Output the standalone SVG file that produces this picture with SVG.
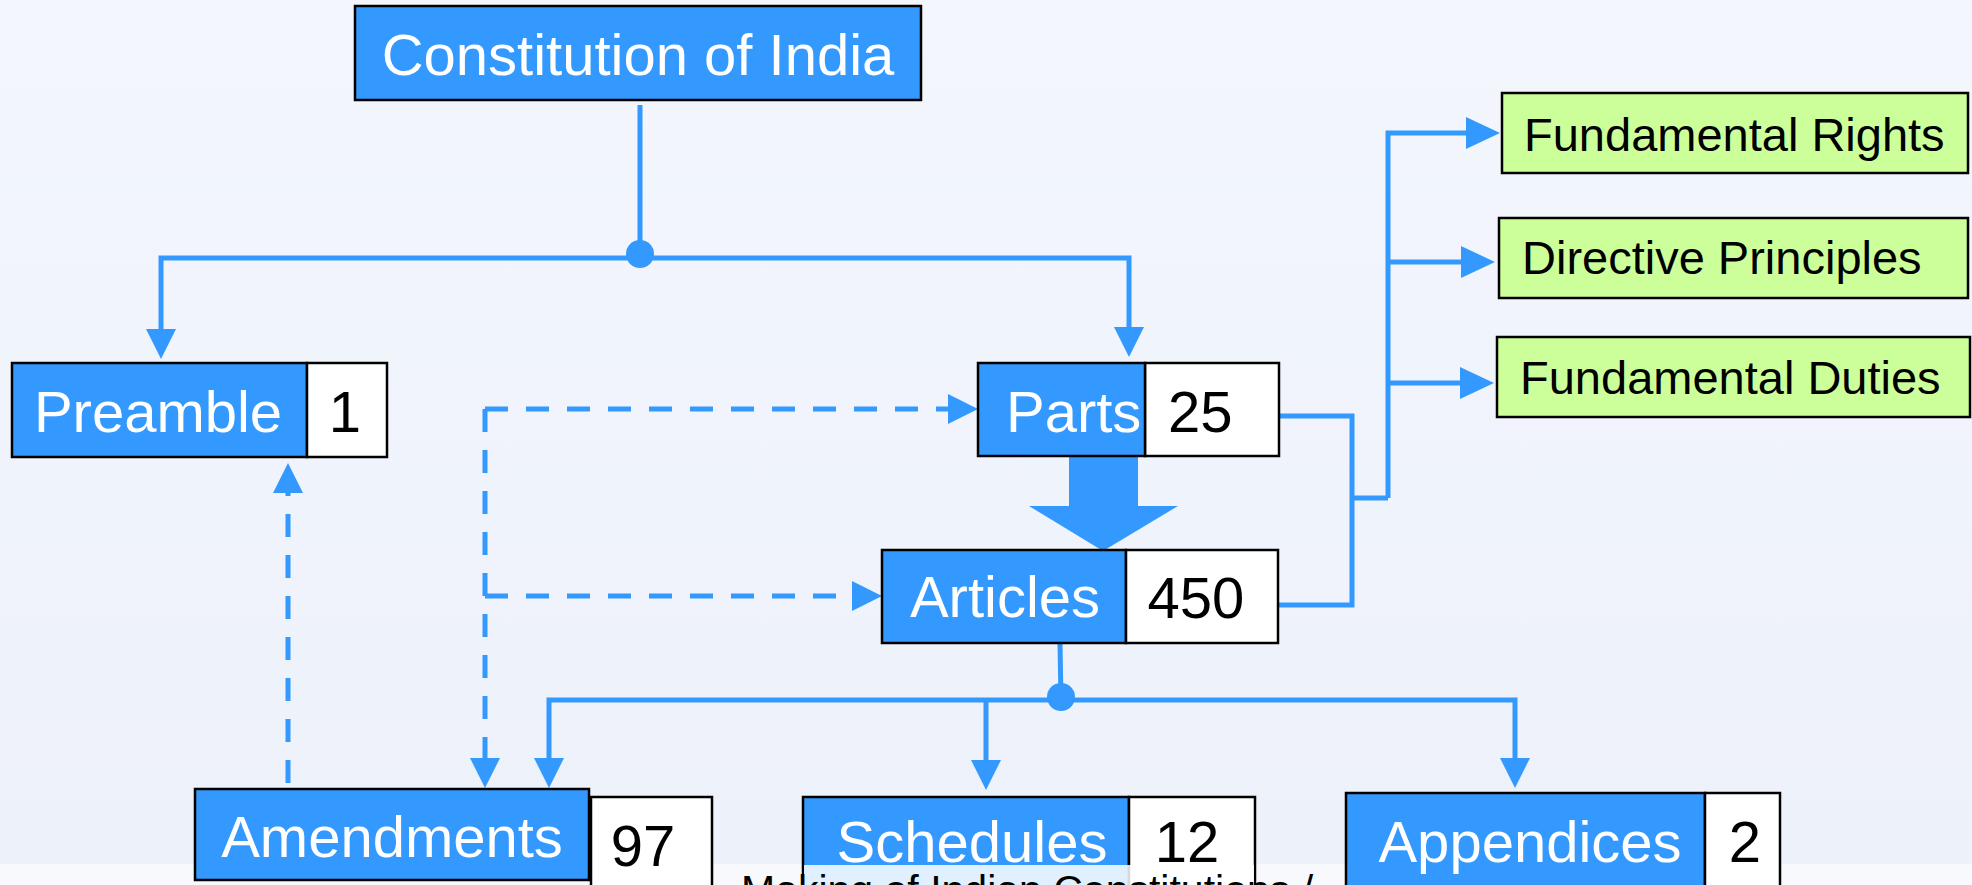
<svg xmlns="http://www.w3.org/2000/svg" width="1972" height="885" viewBox="0 0 1972 885">
<defs>
<linearGradient id="bg" x1="0" y1="0" x2="0" y2="1">
<stop offset="0" stop-color="#f3f6fd"/>
<stop offset="1" stop-color="#edf1fa"/>
</linearGradient>
<marker id="ah" viewBox="0 0 30 30" refX="4" refY="15" markerWidth="30" markerHeight="30" markerUnits="userSpaceOnUse" orient="auto">
<path d="M0,0 L30,15 L0,30 z" fill="#3399ff"/>
</marker>
<marker id="ahb" viewBox="0 0 34 32" refX="4" refY="16" markerWidth="34" markerHeight="32" markerUnits="userSpaceOnUse" orient="auto">
<path d="M0,0 L34,16 L0,32 z" fill="#3399ff"/>
</marker>
<style>
.blue{fill:#3399ff;stroke:#000;stroke-width:2.5}
.num{fill:#fff;stroke:#000;stroke-width:2.5}
.green{fill:#ccff99;stroke:#000;stroke-width:2.5}
.wt{font-family:"Liberation Sans",Arial,sans-serif;font-size:58px;fill:#fff}
.bt{font-family:"Liberation Sans",Arial,sans-serif;font-size:58px;fill:#000}
.gt{font-family:"Liberation Sans",Arial,sans-serif;font-size:47px;fill:#000}
.ln{fill:none;stroke:#3399ff;stroke-width:5}
.dl{fill:none;stroke:#3399ff;stroke-width:5;stroke-dasharray:23 18}
.arr{marker-end:url(#ah)}
</style>
</defs>
<rect x="0" y="0" width="1972" height="885" fill="url(#bg)"/>
<rect x="0" y="864" width="1972" height="21" fill="#f8f9fc"/>

<g id="connectors">
<path class="ln" d="M640,105 V258"/>
<path class="ln arr" d="M640,258 H161 V333"/>
<path class="ln arr" d="M640,258 H1129 V331"/>
<circle cx="640" cy="254" r="14" fill="#3399ff"/>
<path class="ln" d="M1060,643 L1061,700"/>
<path class="ln arr" d="M1061,700 H549 V762"/>
<path class="ln arr" d="M986,700 V764"/>
<path class="ln arr" d="M1061,700 H1515 V762"/>
<circle cx="1061" cy="697" r="14" fill="#3399ff"/>
<path class="ln" d="M1279,416 H1352 V605 H1278"/>
<path class="ln" d="M1350,498 H1388"/>
<path class="ln" d="M1388,498 V133 H1470" style="marker-end:url(#ahb)"/>
<path class="ln" d="M1388,262 H1465" style="marker-end:url(#ahb)"/>
<path class="ln" d="M1388,383 H1464" style="marker-end:url(#ahb)"/>
<path class="dl arr" d="M288,783 V489"/>
<path class="dl arr" d="M485,409 H952"/>
<path class="dl arr" d="M485,409 V762"/>
<path class="dl arr" d="M485,596 H856"/>
<polygon points="1069,455 1138,455 1138,506 1178,506 1103,551 1029,506 1069,506" fill="#3399ff"/>
</g>

<g id="constitution">
<rect class="blue" x="355" y="6" width="566" height="94"/>
<text class="wt" x="638" y="75" text-anchor="middle">Constitution of India</text>
</g>

<g id="preamble">
<rect class="blue" x="12" y="363" width="295" height="94"/>
<rect class="num" x="307" y="363" width="80" height="94"/>
<text class="wt" x="158" y="432" text-anchor="middle">Preamble</text>
<text class="bt" x="345" y="432" text-anchor="middle">1</text>
</g>

<g id="parts">
<rect class="num" x="1145" y="363" width="134" height="93"/>
<rect class="blue" x="978" y="363" width="167" height="93"/>
<text class="wt" x="1006" y="432">Parts</text>
<text class="bt" x="1168" y="432">25</text>
</g>

<g id="articles">
<rect class="blue" x="882" y="550" width="244" height="93"/>
<rect class="num" x="1126" y="550" width="152" height="93"/>
<text class="wt" x="1005" y="617" text-anchor="middle">Articles</text>
<text class="bt" x="1196" y="618" text-anchor="middle">450</text>
</g>

<g id="fundamental-rights">
<rect class="green" x="1502" y="93" width="466" height="80"/>
<text class="gt" x="1524" y="151">Fundamental Rights</text>
</g>

<g id="directive-principles">
<rect class="green" x="1499" y="218" width="469" height="80"/>
<text class="gt" x="1522" y="274">Directive Principles</text>
</g>

<g id="fundamental-duties">
<rect class="green" x="1497" y="337" width="473" height="80"/>
<text class="gt" x="1520" y="394">Fundamental Duties</text>
</g>

<g id="amendments">
<rect class="blue" x="195" y="789" width="394" height="91"/>
<rect class="num" x="591" y="797" width="121" height="100"/>
<text class="wt" x="392" y="857" text-anchor="middle">Amendments</text>
<text class="bt" x="643" y="866" text-anchor="middle">97</text>
</g>

<g id="schedules">
<rect class="blue" x="803" y="797" width="326" height="100"/>
<rect class="num" x="1129" y="797" width="126" height="100"/>
<text class="wt" x="972" y="862" text-anchor="middle">Schedules</text>
<text class="bt" x="1187" y="862" text-anchor="middle">12</text>
</g>

<g id="appendices">
<rect class="blue" x="1346" y="793" width="359" height="104"/>
<rect class="num" x="1705" y="793" width="75" height="104"/>
<text class="wt" x="1530" y="862" text-anchor="middle">Appendices</text>
<text class="bt" x="1745" y="862" text-anchor="middle">2</text>
</g>

<g id="footer">
<rect x="804" y="865" width="450" height="20" fill="#ffffff" fill-opacity="0.85"/>
<text x="741" y="904" font-family="'Liberation Sans',Arial,sans-serif" font-size="41" fill="#000">Making of Indian Constitutions /</text>
</g>
</svg>
